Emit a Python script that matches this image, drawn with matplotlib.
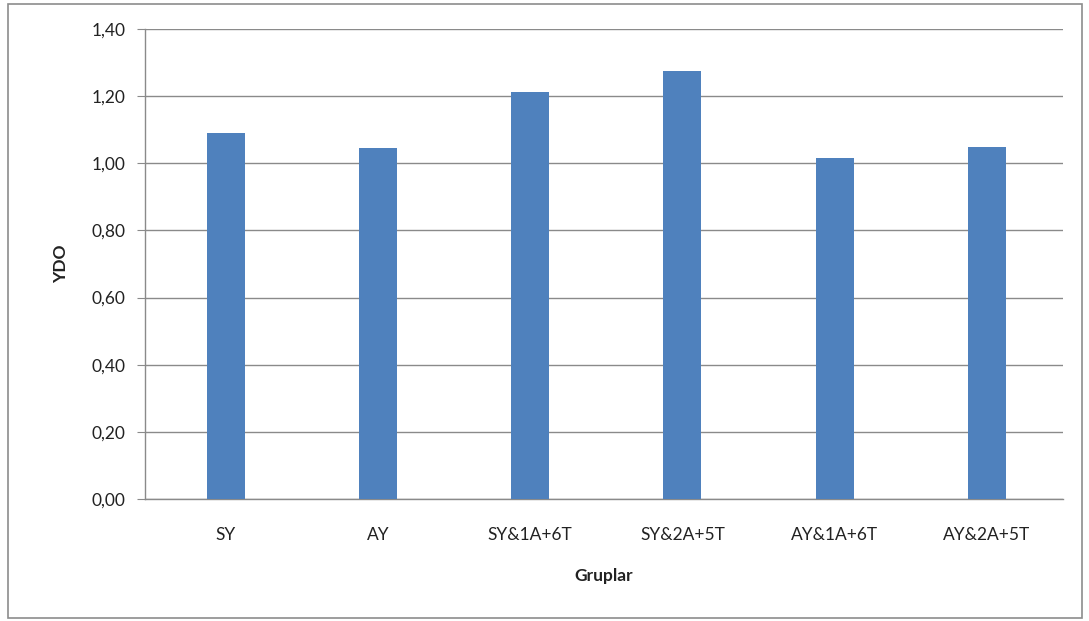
import matplotlib
matplotlib.use("Agg")
import matplotlib.pyplot as plt
from matplotlib.patches import Rectangle
from matplotlib.ticker import FuncFormatter

groups = ["SY", "AY", "SY&1A+6T", "SY&2A+5T", "AY&1A+6T", "AY&2A+5T"]
ydo = [1.09, 1.045, 1.212, 1.276, 1.016, 1.049]
yticks = [0.0, 0.2, 0.4, 0.6, 0.8, 1.0, 1.2, 1.4]

plt.rcParams["font.family"] = ["Lato", "DejaVu Sans"]

W, H = 1089, 621
fig = plt.figure(figsize=(W / 100, H / 100), dpi=100)
fig.patch.set_facecolor("white")

# outer chart frame
fig.patches.append(Rectangle((8 / W, 3 / H), 1074 / W, 614 / H,
                             transform=fig.transFigure, fill=False,
                             edgecolor="#8c8c8c", linewidth=1.2))

ax = fig.add_axes([145 / W, 1 - 499 / H, 918 / W, 470 / H])
x = range(len(groups))
ax.bar(x, ydo, width=0.25, color="#4F81BD", zorder=3)

ax.set_xlim(-0.53, len(groups) - 0.5)
ax.set_ylim(0, 1.4)
ax.set_yticks(yticks)
ax.yaxis.set_major_formatter(FuncFormatter(lambda v, _: f"{v:.2f}".replace(".", ",")))
ax.set_xticks(list(x))
ax.set_xticklabels(groups)

ax.grid(axis="y", color="#8a8a8a", linewidth=1, zorder=0)
for side in ["top", "right"]:
    ax.spines[side].set_visible(False)
for side in ["left", "bottom"]:
    ax.spines[side].set_color("#8a8a8a")
    ax.spines[side].set_linewidth(1)

ax.tick_params(axis="y", direction="out", length=6, color="#8a8a8a",
               labelsize=12.5, labelcolor="#222222", pad=8)
ax.tick_params(axis="x", length=0, labelsize=12.5, labelcolor="#222222", pad=20)

ax.set_ylabel("YDO", fontsize=12.5, fontweight="bold", color="#222222", labelpad=16)
ax.set_xlabel("Gruplar", fontsize=12.5, fontweight="bold", color="#222222", labelpad=18)

fig.savefig("out.png", dpi=100, facecolor="white")
